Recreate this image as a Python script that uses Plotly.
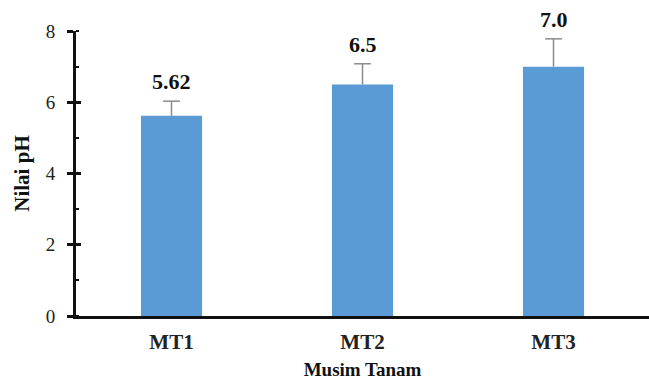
import plotly.graph_objects as go

seasons = ["MT1", "MT2", "MT3"]
ph_values = [5.62, 6.5, 7.0]
ph_errors = [0.41, 0.58, 0.78]
y_ticks = [0, 2, 4, 6, 8]

font_family = "Liberation Serif"
bar_color = "#5B9BD5"
err_color = "#8a8a8a"

fig = go.Figure()
fig.add_trace(go.Bar(
    x=seasons,
    y=ph_values,
    width=0.32,
    marker=dict(color=bar_color, line=dict(width=0)),
    error_y=dict(type="data", array=ph_errors, symmetric=False,
                 arrayminus=[0, 0, 0], color=err_color, thickness=1.5, width=0),
))

# caps on top of the upper error whiskers
tops = [v + e for v, e in zip(ph_values, ph_errors)]
fig.add_trace(go.Scatter(
    x=seasons, y=tops, mode="markers", hoverinfo="skip",
    marker=dict(symbol="line-ew", size=12, color=err_color,
                line=dict(width=1.5, color=err_color)),
))

# value labels above each error bar
for s, v, t in zip(seasons, ph_values, tops):
    fig.add_annotation(
        x=s, y=t, text=f"<b>{v}</b>", showarrow=False,
        yanchor="bottom", yshift=5,
        font=dict(family=font_family, size=22, color="#111"),
    )

# second y axis carrying the inward half of the crossing ticks
fig.add_trace(go.Scatter(x=seasons, y=ph_values, yaxis="y2",
                         mode="markers", marker=dict(opacity=0),
                         hoverinfo="skip", showlegend=False))

fig.update_layout(
    width=649, height=381,
    margin=dict(l=76, r=0, t=31, b=65),
    plot_bgcolor="white", paper_bgcolor="white",
    showlegend=False,
    font=dict(family=font_family, size=18, color="#111"),
    xaxis=dict(
        range=[-0.5, 2.5],
        showline=True, linecolor="#111", linewidth=2.5,
        ticks="", showgrid=False, zeroline=False,
        ticklabelstandoff=5,
        tickfont=dict(family=font_family, size=21, color="#222"),
        tickprefix="<b>", ticksuffix="</b>",
        title=dict(text="<b>Musim Tanam</b>", standoff=10,
                   font=dict(family=font_family, size=19)),
    ),
    yaxis=dict(
        range=[0, 8], tickvals=y_ticks,
        showline=True, linecolor="#111", linewidth=3,
        ticks="outside", ticklen=6, tickwidth=2.5, tickcolor="#111",
        ticklabelstandoff=8,
        minor=dict(dtick=1, ticks="inside", ticklen=3, tickwidth=2, tickcolor="#111"),
        showgrid=False, zeroline=False,
        tickfont=dict(family=font_family, size=19, color="#222"),
        tickprefix="<b>", ticksuffix="</b>",
        title=dict(text="<b>Nilai pH</b>", standoff=11,
                   font=dict(family=font_family, size=21)),
    ),
    yaxis2=dict(
        overlaying="y", range=[0, 8], tickvals=y_ticks,
        ticks="inside", ticklen=5, tickwidth=2.5, tickcolor="#111",
        showticklabels=False, showgrid=False, zeroline=False, showline=False,
        side="left", anchor="x",
    ),
)

fig.write_html("out.html")
